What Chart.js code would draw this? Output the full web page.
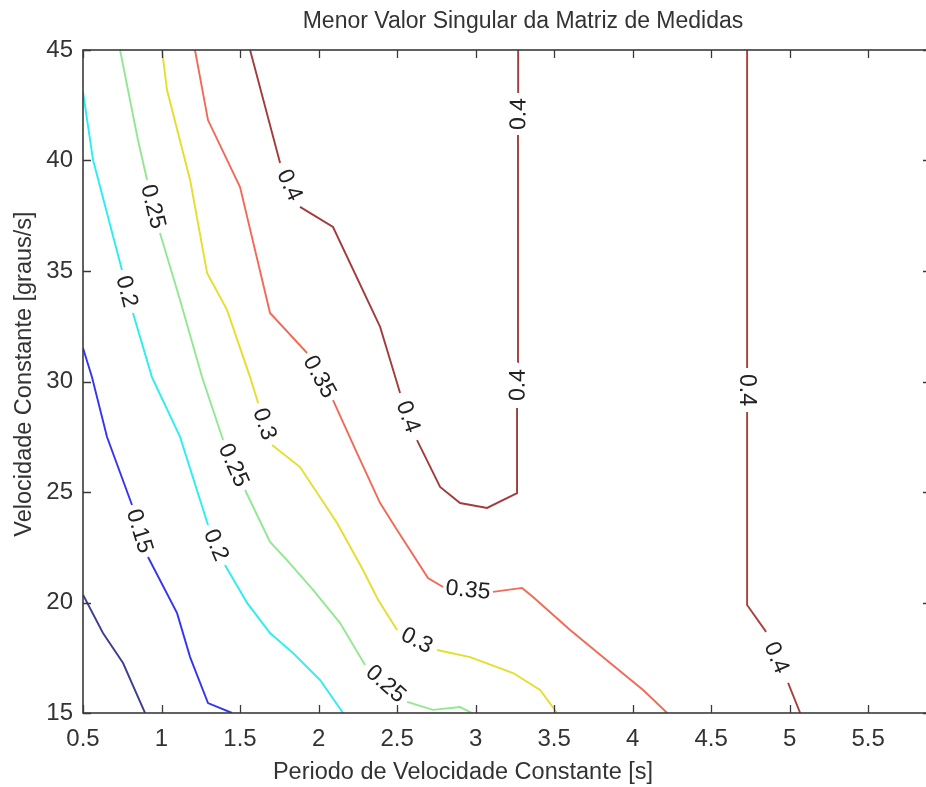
<!DOCTYPE html>
<html>
<head>
<meta charset="utf-8">
<script src="https://cdn.jsdelivr.net/npm/chart.js@4.4.1/dist/chart.umd.min.js"></script>
<style>
  html, body { margin: 0; padding: 0; background: #fff; overflow: hidden; width: 926px; height: 787px; }
  #wrap { position: absolute; left: 0; top: 0; width: 934px; height: 787px; }
</style>
</head>
<body>
<div id="wrap"><canvas id="c" width="934" height="787"></canvas></div>
<script>
// ---- Data ----
const chartTitle = 'Menor Valor Singular da Matriz de Medidas';
const xTitle = 'Periodo de Velocidade Constante [s]';
const yTitle = 'Velocidade Constante [graus/s]';

const xTicks = [0.5, 1, 1.5, 2, 2.5, 3, 3.5, 4, 4.5, 5, 5.5];
const xTickLabels = ['0.5', '1', '1.5', '2', '2.5', '3', '3.5', '4', '4.5', '5', '5.5'];
const yTicks = [15, 20, 25, 30, 35, 40, 45];
const yTickLabels = ['15', '20', '25', '30', '35', '40', '45'];

// contour levels (one entry per contour line); null marks an inline label gap
const levels = ['0.1', '0.15', '0.2', '0.25', '0.3', '0.35', '0.4', '0.4'];

const c010 = [[0.5, 20.35], [0.627, 18.62], [0.755, 17.26], [0.895, 15]];
const c015 = [[0.5, 31.52], [0.557, 30.20], [0.653, 27.49], [0.812, 24.41], null,
  [0.914, 22.06], [1.099, 19.52], [1.182, 17.53], [1.296, 15.45], [1.449, 15]];
const c020 = [[0.5, 43.1], [0.564, 40.02], [0.748, 35.05], null, [0.818, 33.10],
  [0.939, 30.20], [1.118, 27.49], [1.296, 23.51], null, [1.404, 21.70], [1.545, 19.98],
  [1.691, 18.62], [1.838, 17.71], [2.010, 16.49], [2.156, 15]];
const c025 = [[0.736, 45], [0.850, 40.93], [0.908, 39.12], null, [0.990, 36.72],
  [1.118, 33.69], [1.258, 30.20], [1.392, 27.35], null, [1.532, 25.09], [1.691, 22.74],
  [1.799, 21.92], [1.965, 20.57], [2.137, 19.07], [2.296, 17.17], null, [2.564, 15.50],
  [2.729, 15.14], [2.901, 15.27], [2.978, 15]];
const c030 = [[1.003, 45], [1.035, 43.19], [1.182, 39.12], [1.290, 34.91], [1.417, 33.24],
  [1.564, 30.20], [1.615, 29.03], null, [1.704, 27.13], [1.882, 26.13], [2.118, 23.60],
  [2.283, 21.47], [2.379, 20.12], [2.500, 18.76], null, [2.755, 17.85], [2.965, 17.53],
  [3.239, 16.81], [3.411, 16.04], [3.519, 15]];
const c035 = [[1.213, 45], [1.296, 41.83], [1.500, 38.80], [1.691, 33.10], [1.927, 31.29], null,
  [2.092, 29.16], [2.245, 26.76], [2.392, 24.50], [2.500, 23.28], [2.697, 21.11], [2.793, 20.70], null,
  [3.111, 20.48], [3.296, 20.66], [3.366, 20.25], [3.602, 18.76], [3.857, 17.26], [4.067, 16.04],
  [4.220, 15]];
const c040a = [[1.564, 45], [1.755, 39.89], null, [1.882, 37.90], [2.092, 36.99], [2.392, 32.47],
  [2.475, 30.52], [2.519, 29.48], null, [2.627, 27.35], [2.774, 25.23], [2.901, 24.50],
  [3.073, 24.28], [3.264, 24.95], [3.264, 28.80], null, [3.267, 30.88], [3.270, 41.15], null,
  [3.271, 43.05], [3.271, 45]];
const c040b = [[4.729, 45], [4.729, 30.61], null, [4.729, 28.62], [4.729, 19.89], [4.850, 18.67], null,
  [4.990, 16.36], [5.067, 15]];

const series = [c010, c015, c020, c025, c030, c035, c040a, c040b];
const colors = ['#3e3e90', '#3434f2', '#2aeef2', '#92e892', '#e6de2a', '#f26a56', '#a23c3c', '#a8403c'];

// ---- Chart ----
const FONT = "'Liberation Sans', Arial, Helvetica, sans-serif";

const datasets = series.map((s, i) => ({
  label: levels[i],
  data: s.map(p => p ? { x: p[0], y: p[1] } : { x: null, y: null }),
  borderColor: colors[i],
  backgroundColor: colors[i],
  borderWidth: 1.9,
  showLine: true,
  pointRadius: 0,
  pointHoverRadius: 0,
  fill: false,
  spanGaps: false,
  tension: 0
}));

const contourLabels = {
  id: 'contourLabels',
  afterDatasetsDraw(chart) {
    const { ctx, scales: { x, y } } = chart;
    ctx.save();
    ctx.font = '23px ' + FONT;
    ctx.fillStyle = '#222';
    ctx.textAlign = 'center';
    ctx.textBaseline = 'middle';
    series.forEach((s, i) => {
      for (let k = 1; k < s.length - 1; k++) {
        if (s[k] !== null) continue;
        const a = s[k - 1], b = s[k + 1];
        const ax = x.getPixelForValue(a[0]), ay = y.getPixelForValue(a[1]);
        const bx = x.getPixelForValue(b[0]), by = y.getPixelForValue(b[1]);
        let ang = Math.atan2(by - ay, bx - ax);
        if (ang > Math.PI / 2 + 1e-6) ang -= Math.PI;
        if (ang < -Math.PI / 2 - 1e-6) ang += Math.PI;
        ctx.save();
        ctx.translate((ax + bx) / 2, (ay + by) / 2);
        ctx.rotate(ang);
        ctx.fillText(levels[i], 0, 1);
        ctx.restore();
      }
    });
    ctx.restore();
  }
};

const frame = {
  id: 'frame',
  afterDraw(chart) {
    const { ctx, chartArea: a, scales: { x, y } } = chart;
    ctx.save();
    ctx.strokeStyle = '#3a3a3a';
    ctx.lineWidth = 1.6;
    ctx.strokeRect(a.left, a.top, a.right - a.left, a.bottom - a.top);
    ctx.beginPath();
    const L = 8;
    x.ticks.forEach(t => {
      const px = Math.round(x.getPixelForValue(t.value)) + 0.5;
      ctx.moveTo(px, a.bottom); ctx.lineTo(px, a.bottom - L);
      ctx.moveTo(px, a.top); ctx.lineTo(px, a.top + L);
    });
    y.ticks.forEach(t => {
      const py = Math.round(y.getPixelForValue(t.value)) + 0.5;
      ctx.moveTo(a.left, py); ctx.lineTo(a.left + L, py);
      ctx.moveTo(a.right, py); ctx.lineTo(a.right - L, py);
    });
    ctx.lineWidth = 1.3;
    ctx.stroke();

    // titles
    ctx.fillStyle = '#333';
    ctx.font = '23px ' + FONT;
    ctx.textAlign = 'center';
    ctx.textBaseline = 'alphabetic';
    ctx.fillText(chartTitle, 523, 28);
    ctx.font = '23.5px ' + FONT;
    ctx.fillText(xTitle, 463, 779);
    ctx.save();
    ctx.translate(31, 374);
    ctx.rotate(-Math.PI / 2);
    ctx.fillText(yTitle, 0, 0);
    ctx.restore();
    ctx.restore();
  }
};

new Chart(document.getElementById('c'), {
  type: 'scatter',
  data: { datasets },
  options: {
    responsive: false,
    animation: false,
    devicePixelRatio: 1,
    layout: { padding: { left: 0, top: 50, right: 3, bottom: 0 } },
    plugins: { legend: { display: false }, tooltip: { enabled: false }, title: { display: false } },
    events: [],
    scales: {
      x: {
        type: 'linear', min: 0.5, max: 5.9,
        afterBuildTicks: sc => { sc.ticks = xTicks.map(v => ({ value: v })); },
        afterFit: sc => { sc.height = 74; },
        grid: { display: false, drawTicks: false },
        border: { display: false },
        ticks: {
          padding: 12, color: '#333', font: { family: FONT, size: 24 },
          maxRotation: 0, autoSkip: false,
          callback: (v, i) => xTickLabels[i]
        }
      },
      y: {
        type: 'linear', min: 15, max: 45,
        afterBuildTicks: sc => { sc.ticks = yTicks.map(v => ({ value: v })); },
        afterFit: sc => { sc.width = 83; },
        grid: { display: false, drawTicks: false },
        border: { display: false },
        ticks: {
          padding: 10, color: '#333', font: { family: FONT, size: 24 },
          autoSkip: false,
          callback: (v, i) => yTickLabels[i]
        }
      }
    }
  },
  plugins: [contourLabels, frame]
});
</script>
</body>
</html>
